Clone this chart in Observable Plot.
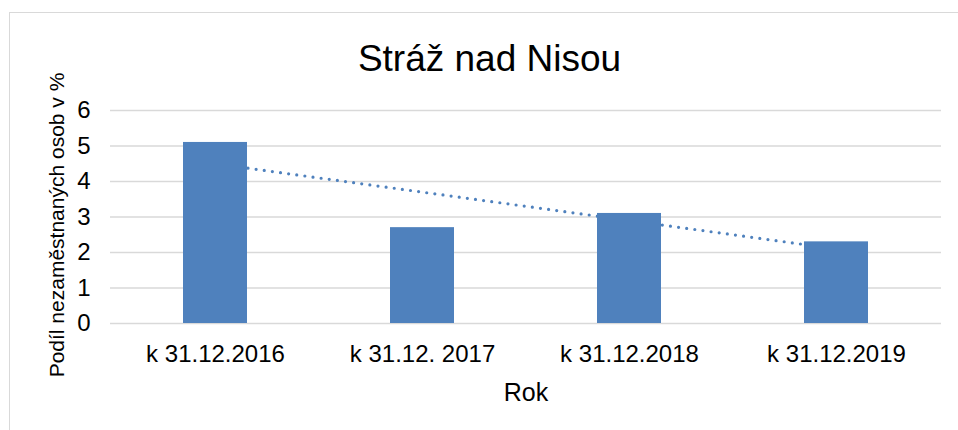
<!DOCTYPE html>
<html>
<head>
<meta charset="utf-8">
<script src="https://cdn.jsdelivr.net/npm/d3@7"></script>
<script src="https://cdn.jsdelivr.net/npm/@observablehq/plot@0.6"></script>
<style>
  html, body { margin: 0; padding: 0; background: #fff; }
  body { width: 958px; height: 430px; overflow: hidden; position: relative; font-family: "Liberation Sans", Arial, sans-serif; color: #000; }
  #frame { position: absolute; left: 9px; top: 12px; width: 1000px; height: 500px; border: 1.5px solid #d9d9d9; box-sizing: border-box; }
  #chart { position: absolute; left: 0; top: 0; }
  .lbl { position: absolute; white-space: nowrap; line-height: 1; color: #000; }
  #title { font-size: 37px; left: 489.5px; top: 39.5px; transform: translateX(-50%); }
  #xlabel { font-size: 25px; left: 526px; top: 380px; transform: translateX(-50%); }
  #ylabel { font-size: 21px; left: 56px; top: 225px; transform: translate(-50%, -50%) rotate(-90deg); }
</style>
</head>
<body>
<div id="frame"></div>
<div id="chart"></div>
<div id="title" class="lbl"></div>
<div id="xlabel" class="lbl"></div>
<div id="ylabel" class="lbl"></div>
<script>
const titleText = "Stráž nad Nisou";
const xLabel = "Rok";
const yLabel = "Podíl nezaměstnaných osob v %";
const categories = ["k 31.12.2016", "k 31.12. 2017", "k 31.12.2018", "k 31.12.2019"];
const values = [5.1, 2.7, 3.1, 2.3];
const yTicks = [0, 1, 2, 3, 4, 5, 6];

document.getElementById("title").textContent = titleText;
document.getElementById("xlabel").textContent = xLabel;
document.getElementById("ylabel").textContent = yLabel;

const data = categories.map((c, i) => ({cat: c, value: values[i]}));

// linear trendline (least squares over category index)
const n = values.length;
const xs = values.map((_, i) => i);
const mx = d3.mean(xs), my = d3.mean(values);
const slope = d3.sum(xs, (x, i) => (x - mx) * (values[i] - my)) / d3.sum(xs, x => (x - mx) ** 2);
const intercept = my - slope * mx;
const trend = [0, n - 1].map(i => ({cat: categories[i], v: intercept + slope * i}));

const blue = "#4F81BD";
const fontFamily = '"Liberation Sans", Arial, sans-serif';

const chart = Plot.plot({
  width: 958,
  height: 430,
  marginLeft: 110,
  marginRight: 17,
  marginTop: 110,
  marginBottom: 107,
  style: {fontFamily, background: "transparent", color: "#000", overflow: "visible"},
  x: {domain: categories, paddingInner: 0.69, paddingOuter: 0.345, align: 0.5},
  y: {domain: [0, 6]},
  marks: [
    Plot.ruleY(yTicks, {stroke: "#d9d9d9", strokeWidth: 1.6}),
    Plot.line(trend, {x: "cat", y: "v", stroke: blue, strokeWidth: 3.2, strokeDasharray: "0 8.2", strokeLinecap: "round"}),
    Plot.barY(data, {x: "cat", y: "value", fill: blue}),
    Plot.axisX({tickSize: 0, tickPadding: 21, fontSize: 24, label: null, fill: "#000"}),
    Plot.axisY({ticks: yTicks, tickFormat: d => String(d), tickSize: 0, tickPadding: 20, fontSize: 24, label: null, fill: "#000"})
  ]
});
document.getElementById("chart").appendChild(chart);
</script>
</body>
</html>
